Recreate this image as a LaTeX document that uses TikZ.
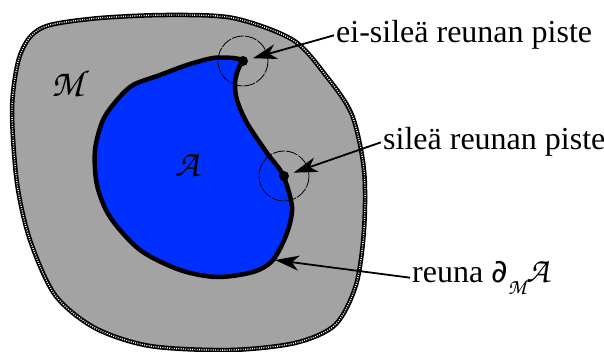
\documentclass[tikz,border=0pt]{standalone}
\usepackage[T1]{fontenc}
\usepackage{fontspec}
\setmainfont{Liberation Serif}
\newfontfamily\partfont{DejaVu Sans}
\usetikzlibrary{arrows.meta,positioning}
\definecolor{mgray}{RGB}{163,163,163}
\definecolor{ablue}{RGB}{0,48,255}
\newcommand{\chanc}[1]{{\fontencoding{T1}\fontfamily{pzc}\fontseries{m}\fontshape{it}\selectfont #1}}
\tikzset{
  manifold/.style={fill=mgray,draw=black,line width=4.5pt,
    postaction={draw=white,line width=1.4pt,dash pattern=on 0.9pt off 1.4pt}},
  region/.style={fill=ablue,draw=black,line width=4.5pt,line join=round},
  bpoint/.style={circle,fill=black,inner sep=0pt,minimum size=10pt},
  nbhd/.style={draw=black,line width=0.8pt,dash pattern=on 12pt off 1.3pt},
  callout/.style={-{Stealth[length=24pt,width=15pt,inset=7pt]},line width=1.8pt},
  lbl/.style={font=\fontsize{32}{36}\selectfont,inner sep=2pt,anchor=base west},
  setlbl/.style={font=\fontsize{38}{42}\selectfont}
}

\begin{document}
\begin{tikzpicture}[x=1pt,y=-1pt]
  \useasboundingbox (0,0) rectangle (604,352);
  % the set M
  \path[manifold] plot[smooth cycle] coordinates {(50,25) (100,18) (167,15)
    (233,18) (293,40) (327,77) (352,115) (364,170) (364,230) (356,285)
    (335,325) (295,343) (230,350) (150,346) (95,328) (55,295) (30,240)
    (17,183) (12,110) (18,62) (30,37)};
  % the subset A, with one corner on its boundary
  \draw[region] plot[smooth] coordinates {(243,60) (233,58) (213,58) (187,65)
    (160,75) (133,85) (117,100) (103,120) (95,150) (97,185) (110,217)
    (140,250) (180,270) (217,277) (253,272) (273,260) (287,233) (292,207)
    (283,175) (267,153) (247,123) (237,100) (235,83) (238,70) (243,60)} -- cycle;
  \node[setlbl] (mlbl) at (67,83) {\chanc{M}};
  \node[setlbl] (albl) at (187,165) {\chanc{A}};
  % boundary points and their neighbourhoods
  \node[bpoint] (cusp) at (243,61) {};
  \node[bpoint] (smooth) at (284,176) {};
  \draw[nbhd] (cusp) circle[radius=25];
  \draw[nbhd] (smooth) circle[radius=25];
  \coordinate (rimpt) at (275,260);
  % labels
  \node[lbl] (cusplbl) at (334,43) {ei-sileä reunan piste};
  \node[lbl] (smoothlbl) at (381,150) {sileä reunan piste};
  \node[lbl] (rimlbl) at (410,283) {reuna {\partfont ∂}\raisebox{-0.35em}{\fontsize{22}{24}\selectfont\chanc{M}}\chanc{\fontsize{36}{40}\selectfont A}};
  \draw[callout,shorten >=5pt] (cusplbl.west) -- (cusp);
  \draw[callout,shorten >=5pt] (smoothlbl.west) -- (smooth);
  \draw[callout] (rimlbl.west) -- (rimpt);
\end{tikzpicture}
\end{document}
